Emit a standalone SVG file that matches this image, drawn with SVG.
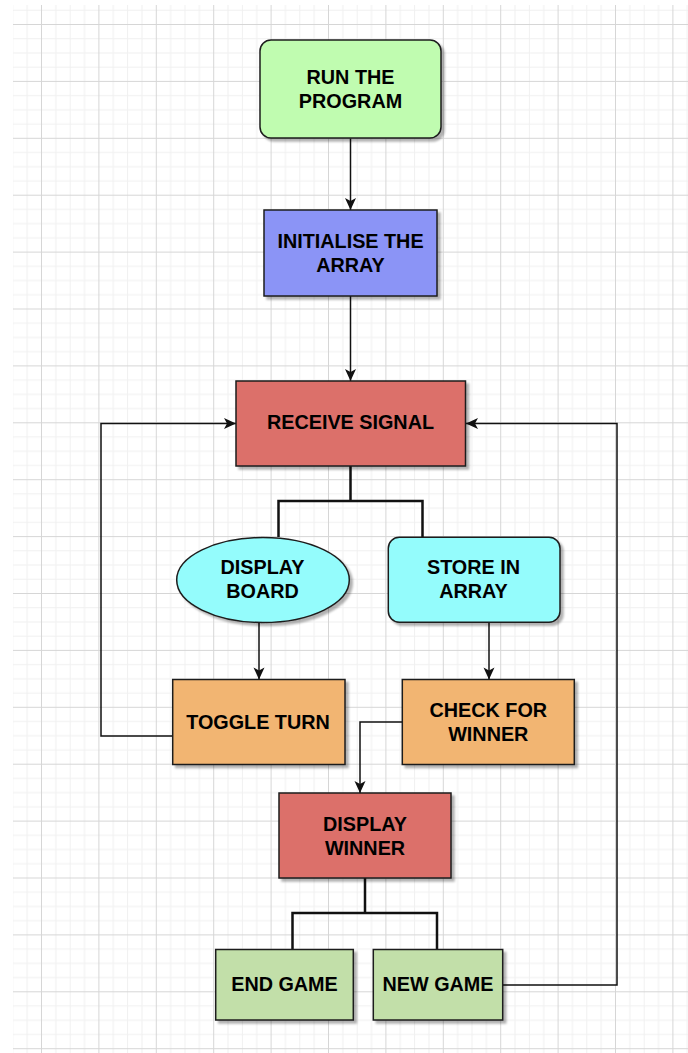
<svg xmlns="http://www.w3.org/2000/svg" width="688" height="1053" viewBox="0 0 688 1053">
<defs>
<pattern id="grid" patternUnits="userSpaceOnUse" x="41" y="24" width="57.4" height="56.9">
<rect x="14.35" y="0" width="1" height="56.9" fill="#f0f0f0"/>
<rect x="28.7" y="0" width="1" height="56.9" fill="#f0f0f0"/>
<rect x="43.05" y="0" width="1" height="56.9" fill="#f0f0f0"/>
<rect x="0" y="14.22" width="57.4" height="1" fill="#f0f0f0"/>
<rect x="0" y="28.45" width="57.4" height="1" fill="#f0f0f0"/>
<rect x="0" y="42.67" width="57.4" height="1" fill="#f0f0f0"/>
<rect x="0" y="0" width="1" height="56.9" fill="#d6d6d6"/>
<rect x="0" y="0" width="57.4" height="1" fill="#d6d6d6"/>
</pattern>
<filter id="sh" x="-10%" y="-10%" width="130%" height="130%">
<feDropShadow dx="3" dy="3" stdDeviation="1" flood-color="#000" flood-opacity="0.3"/>
</filter>
<marker id="arr" markerUnits="userSpaceOnUse" markerWidth="14" markerHeight="14" viewBox="0 0 14 14" refX="13" refY="7" orient="auto">
<path d="M1,1.5 L13,7 L1,12.5 L4,7 Z" fill="#111"/>
</marker>
<style>
.n{stroke:#1c1c1c;stroke-width:1.5;filter:url(#sh)}
.t{font-family:"Liberation Sans",Arial,Helvetica,sans-serif;font-weight:bold;font-size:19.8px;fill:#000;text-anchor:middle}
.c{fill:none;stroke:#111;stroke-width:1.5}
.b{fill:none;stroke:#111;stroke-width:2.5}
</style>
</defs>
<rect width="688" height="1053" fill="#fff"/>
<rect x="13" y="5" width="675" height="1048" fill="url(#grid)"/>

<g id="connectors">
<path class="c" d="M350.5,138.5 V210" marker-end="url(#arr)"/>
<path class="c" d="M350.5,296 V381" marker-end="url(#arr)"/>
<path class="b" d="M350.5,466 V501 M278.5,537 V501 H422.5 V537"/>
<path class="c" d="M259,622.5 V679.5" marker-end="url(#arr)"/>
<path class="c" d="M489,622.5 V679.5" marker-end="url(#arr)"/>
<path class="c" d="M172.5,736 H101 V423.5 H236" marker-end="url(#arr)"/>
<path class="c" d="M402.5,722 H360 V793" marker-end="url(#arr)"/>
<path class="b" d="M365,878 V913 M292.5,949.5 V913 H437 V949.5"/>
<path class="c" d="M502.5,985 H617 V423.5 H466" marker-end="url(#arr)"/>
</g>

<g id="run">
<rect class="n" x="260" y="40" width="181" height="98" rx="11" fill="#c0fcb0"/>
<text class="t" x="350.5" y="84">RUN THE</text>
<text class="t" x="350.5" y="108">PROGRAM</text>
</g>
<g id="init">
<rect class="n" x="264" y="210" width="173" height="86" fill="#8b94f6"/>
<text class="t" x="350.5" y="248">INITIALISE THE</text>
<text class="t" x="350.5" y="272">ARRAY</text>
</g>
<g id="receive">
<rect class="n" x="236" y="381" width="229.5" height="85" fill="#dc6f6b"/>
<text class="t" x="350.5" y="429">RECEIVE SIGNAL</text>
</g>
<g id="display-board">
<ellipse class="n" cx="263" cy="580" rx="86.3" ry="42.5" fill="#94fcfc"/>
<text class="t" x="262.5" y="574">DISPLAY</text>
<text class="t" x="262.5" y="598">BOARD</text>
</g>
<g id="store">
<rect class="n" x="388.3" y="537.3" width="171.7" height="85" rx="11" fill="#94fcfc"/>
<text class="t" x="473.5" y="574">STORE IN</text>
<text class="t" x="473.5" y="598">ARRAY</text>
</g>
<g id="toggle">
<rect class="n" x="172.7" y="679.5" width="172.3" height="85" fill="#f2b572"/>
<text class="t" x="258" y="728.5">TOGGLE TURN</text>
</g>
<g id="check">
<rect class="n" x="402.3" y="679.5" width="172" height="85" fill="#f2b572"/>
<text class="t" x="488.3" y="716.5">CHECK FOR</text>
<text class="t" x="488.3" y="740.5">WINNER</text>
</g>
<g id="display-winner">
<rect class="n" x="279" y="793" width="172" height="85" fill="#dc6f6b"/>
<text class="t" x="365" y="830.5">DISPLAY</text>
<text class="t" x="365" y="854.5">WINNER</text>
</g>
<g id="end-game">
<rect class="n" x="215.7" y="949.5" width="137.6" height="70.5" fill="#c2dfa9"/>
<text class="t" x="284.5" y="990.5">END GAME</text>
</g>
<g id="new-game">
<rect class="n" x="373.3" y="949.5" width="129.4" height="70.5" fill="#c2dfa9"/>
<text class="t" x="438" y="990.5">NEW GAME</text>
</g>
</svg>
